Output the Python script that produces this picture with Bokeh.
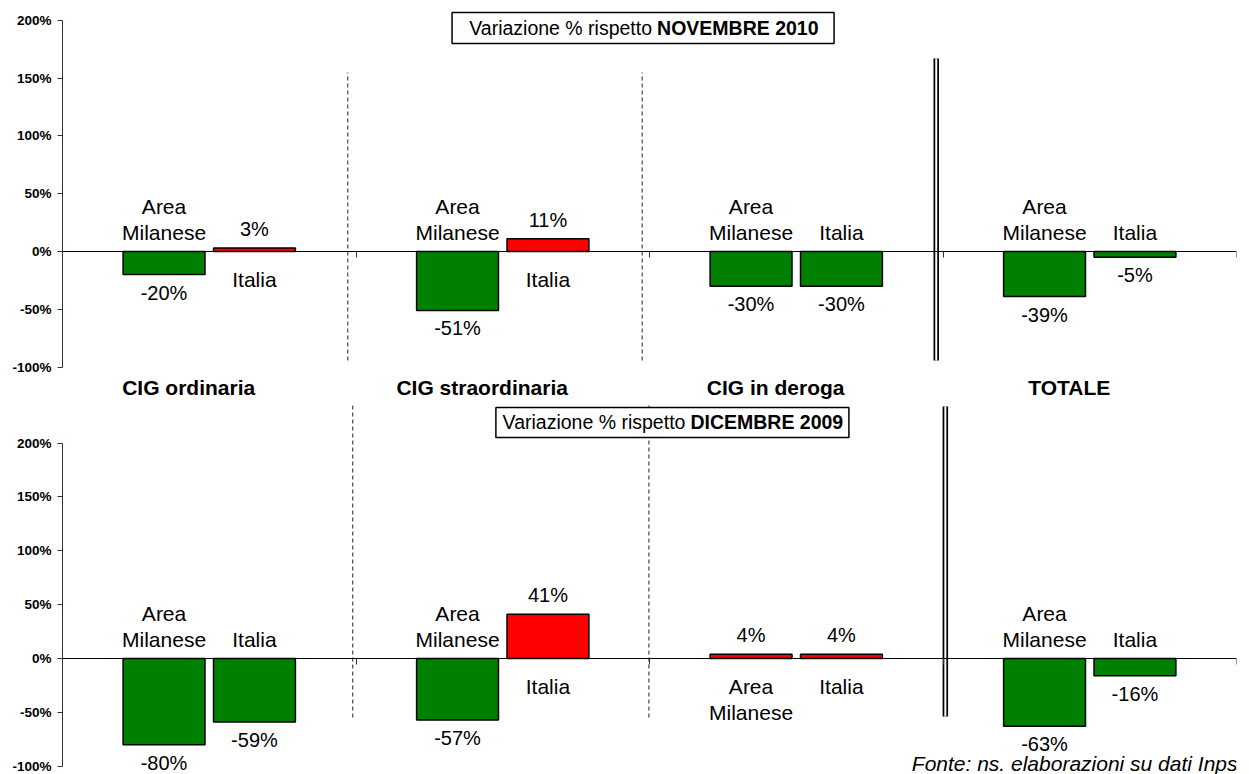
from bokeh.plotting import figure
from bokeh.models import FixedTicker, ColumnDataSource, Range1d
from bokeh.layouts import column
from bokeh.core.properties import value
from bokeh.embed import file_html
from bokeh.resources import INLINE

# ---------------- data ----------------
categories = ["CIG ordinaria", "CIG straordinaria", "CIG in deroga", "TOTALE"]
series_names = ["Area Milanese", "Italia"]
series_lines = [["Area", "Milanese"], ["Italia"]]
nov2010_area = [-20, -51, -30, -39]
nov2010_italia = [3, 11, -30, -5]
dic2009_area = [-80, -57, 4, -63]
dic2009_italia = [-59, 41, 4, -16]
y_ticks = [-100, -50, 0, 50, 100, 150, 200]
y_tick_labels = ["-100%", "-50%", "0%", "50%", "100%", "150%", "200%"]
title_top = ("Variazione % rispetto", "NOVEMBRE 2010")
title_bottom = ("Variazione % rispetto", "DICEMBRE 2009")
footer = "Fonte: ns. elaborazioni su dati Inps"

FONT = value("Liberation Sans")
GREEN = "#008000"
RED = "#FF0000"
BAR_OFFSET = 0.154
BAR_WIDTH = 0.279


def make_panel(area, italia, width, height, border_left, border_right, yr,
               dash_x, dash_y, dbl_x, dbl_y, title, title_xy, box_wh, split_off):
    p = figure(width=width, height=height, x_range=Range1d(0, 4), y_range=Range1d(*yr),
               output_backend="svg", toolbar_location=None,
               min_border_left=border_left, min_border_right=border_right,
               min_border_top=0, min_border_bottom=0)
    p.outline_line_color = None
    p.xgrid.visible = False
    p.ygrid.visible = False
    p.background_fill_color = "white"
    p.border_fill_color = "white"

    # y axis
    ya = p.yaxis[0]
    ya.bounds = (-100, 200)
    ya.ticker = FixedTicker(ticks=y_ticks)
    ya.major_label_overrides = {t: l for t, l in zip(y_ticks, y_tick_labels)}
    ya.major_label_text_font = "Liberation Sans"
    ya.major_label_text_font_style = "bold"
    ya.major_label_text_font_size = "13.5px"
    ya.major_label_text_color = "black"
    ya.major_tick_out = 5
    ya.major_tick_in = 0
    ya.minor_tick_line_color = None
    ya.major_label_standoff = 6
    ya.axis_line_color = "#333333"
    ya.major_tick_line_color = "#333333"

    # x axis at zero
    xa = p.xaxis[0]
    xa.fixed_location = 0
    bounds = list(range(len(categories) + 1))
    xa.ticker = FixedTicker(ticks=bounds)
    xa.major_label_overrides = {b: "" for b in bounds}
    xa.major_tick_in = 0
    xa.major_tick_out = 6
    xa.minor_tick_line_color = None
    xa.axis_line_color = "black"
    xa.major_tick_line_color = "#333333"

    # separators
    p.segment(x0=dash_x, y0=[dash_y[0]] * len(dash_x), x1=dash_x, y1=[dash_y[1]] * len(dash_x),
              line_color="#222222", line_width=1, line_dash="4 3")
    p.segment(x0=[dbl_x], y0=[dbl_y[0]], x1=[dbl_x], y1=[dbl_y[1]], line_color="black", line_width=5.5)
    p.segment(x0=[dbl_x], y0=[dbl_y[0]], x1=[dbl_x], y1=[dbl_y[1]], line_color="white", line_width=2)

    # bars and labels
    xs, tops, colors = [], [], []
    name_x, name_y, name_t, name_off = [], [], [], []
    val_x, val_y, val_t, val_off = [], [], [], []
    for s, vals in enumerate([area, italia]):
        off = -BAR_OFFSET if s == 0 else BAR_OFFSET
        for i, v in enumerate(vals):
            x = i + 0.5 + off
            xs.append(x)
            tops.append(v)
            colors.append(GREEN if v < 0 else RED)
            lines = series_lines[s]
            if v < 0:
                for k, ln in enumerate(reversed(lines)):
                    name_x.append(x); name_y.append(0); name_t.append(ln); name_off.append(-19 - 26 * k)
            else:
                for k, ln in enumerate(lines):
                    name_x.append(x); name_y.append(0); name_t.append(ln); name_off.append(28 + 26 * k)
            val_x.append(x); val_y.append(v); val_t.append(f"{v}%")
            val_off.append(18 if v < 0 else -19)

    p.vbar(x=xs, width=BAR_WIDTH, top=tops, bottom=0, fill_color=colors,
           line_color="black", line_width=1.5)

    p.text(source=ColumnDataSource(dict(x=name_x, y=name_y, t=name_t, o=name_off)),
           x="x", y="y", text="t", y_offset="o", text_font=FONT, text_font_size="21px",
           text_align="center", text_baseline="middle", text_color="black")
    p.text(source=ColumnDataSource(dict(x=val_x, y=val_y, t=val_t, o=val_off)),
           x="x", y="y", text="t", y_offset="o", text_font=FONT, text_font_size="20px",
           text_align="center", text_baseline="middle", text_color="black")

    # title box
    tx, ty = title_xy
    p.rect(x=[tx], y=[ty], width=box_wh[0], height=box_wh[1], width_units="screen",
           height_units="screen", fill_color="white", line_color="black", line_width=1.5)
    p.text(x=[tx], y=[ty], text=[title[0]], x_offset=split_off - 5, text_font=FONT,
           text_font_size="19.5px", text_align="right", text_baseline="middle", text_color="black")
    p.text(x=[tx], y=[ty], text=[title[1]], x_offset=split_off, text_font=FONT,
           text_font_size="19.5px", text_font_style="bold", text_align="left",
           text_baseline="middle", text_color="black")
    return p


top = make_panel(nov2010_area, nov2010_italia, width=1247, height=400,
                 border_left=62, border_right=0, yr=(-128.9, 217.1),
                 dash_x=[0.972, 1.975], dash_y=(-94.3, 154.8),
                 dbl_x=2.977, dbl_y=(-94.3, 167.0),
                 title=title_top, title_xy=(1.978, 193.3), box_wh=(382, 31), split_off=14)

# category labels between the panels
top.text(x=[i + 0.5 - 0.07 for i in range(len(categories))], y=[-117.6] * len(categories),
         text=categories, text_font=FONT, text_font_size="21px", text_font_style="bold",
         text_align="center", text_baseline="middle", text_color="black")

bottom = make_panel(dic2009_area, dic2009_italia, width=1247, height=374,
                    border_left=59, border_right=11, yr=(-107.7, 239.6),
                    dash_x=[0.989, 1.998], dash_y=(-54.8, 235.0),
                    dbl_x=3.008, dbl_y=(-53.9, 234.0),
                    title=title_bottom, title_xy=(2.078, 219.2), box_wh=(353, 30), split_off=18)

bottom.text(x=[4], y=[-107.7], text=[footer], x_offset=1, text_font=FONT, text_font_size="21px",
            text_font_style="italic", text_align="right", text_baseline="bottom", text_color="black")

layout = column(top, bottom, spacing=0)
open("out.html", "w").write(file_html(layout, INLINE))
